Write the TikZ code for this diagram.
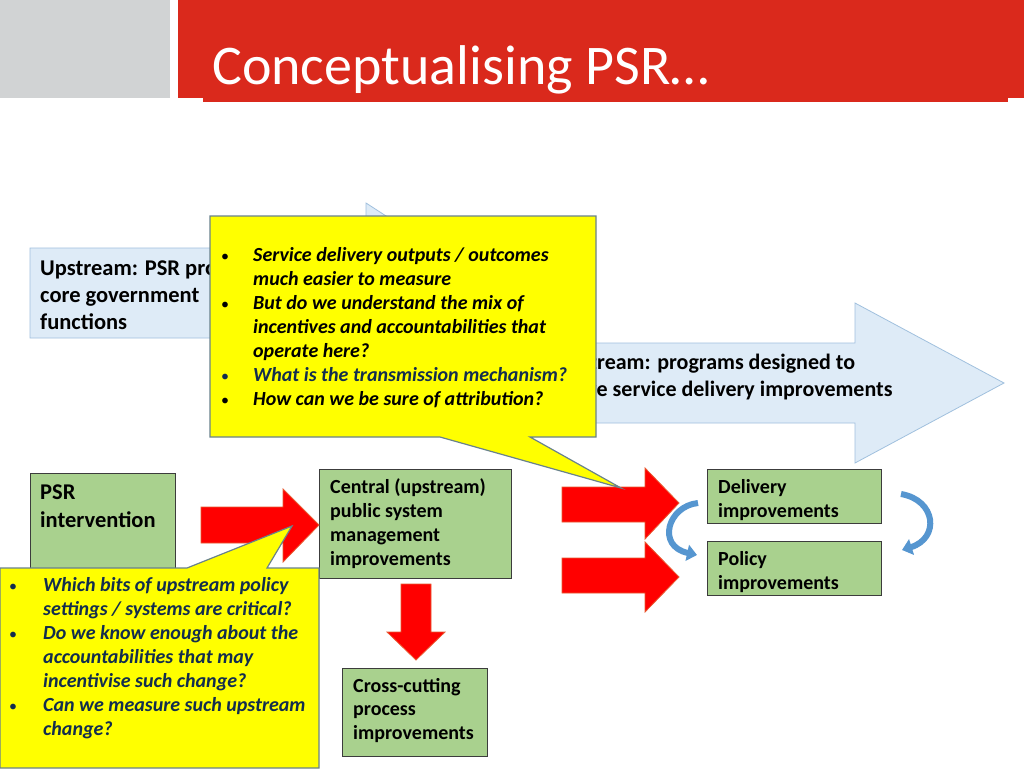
\documentclass[tikz,border=0pt]{standalone}
\usepackage{fontspec}
\setmainfont{Carlito}
\usetikzlibrary{arrows.meta}
\definecolor{hdrred}{RGB}{218,41,28}
\definecolor{hdrgray}{RGB}{209,211,212}
\definecolor{lbfill}{RGB}{222,235,247}
\definecolor{lbline}{RGB}{160,192,222}
\definecolor{gfill}{RGB}{169,209,142}
\definecolor{gline}{RGB}{60,60,60}
\definecolor{redarrow}{RGB}{255,0,0}
\definecolor{redline}{RGB}{232,90,50}
\definecolor{bluecurve}{RGB}{86,150,208}
\definecolor{callyellow}{RGB}{255,255,0}
\definecolor{callline}{RGB}{105,130,140}
\definecolor{navy}{RGB}{18,45,78}
\tikzset{
  lbshape/.style={fill=lbfill, draw=lbline, line width=0.8pt},
  gbox/.style={fill=gfill, draw=gline, line width=1pt, inner sep=0, anchor=north west},
  gtext/.style={anchor=base west, inner sep=0, font=\bfseries\fontsize{20}{24}\selectfont, text=black},
  bigtext/.style={anchor=base west, inner sep=0, font=\bfseries\fontsize{22}{27}\selectfont, text=black},
  redshape/.style={fill=redarrow, draw=redline, line width=0.8pt, line join=miter},
  callout/.style={fill=callyellow, draw=callline, line width=1.2pt},
  calltext/.style={anchor=base west, inner sep=0, font=\bfseries\itshape\fontsize{20}{24}\selectfont},
  bluearrow/.style={draw=bluecurve, line width=6pt, -{Triangle[length=10pt,width=16pt]}}
}
\newcommand{\bdot}{{\upshape\normalfont\fontsize{16}{16}\selectfont •}}
\newcommand{\bitem}{\makebox[32pt][l]{\bdot}}
\newcommand{\bcont}{\hspace*{32pt}}
\newcommand{\litem}{\makebox[34pt][l]{\bdot}}
\newcommand{\lcont}{\hspace*{34pt}}
\begin{document}
\begin{tikzpicture}[x=1pt,y=-1pt]
\useasboundingbox (0,0) rectangle (1024,768);
\fill[white] (0,0) rectangle (1024,768);
% header
\fill[hdrgray] (0,0) rectangle (170,98);
\fill[hdrred] (178,0) rectangle (1024,98);
\fill[hdrred] (203,97) rectangle (1008,102);
\node[anchor=base west, inner sep=0, text=white, font=\fontsize{56}{64}\selectfont] (title) at (212,84) {Conceptualising PSR…};

% light blue arrows
\draw[lbshape] (30,248) -- (366,248) -- (366,203) -- (505,293) -- (366,383) -- (366,338) -- (30,338) -- cycle;
\begin{scope}
\clip (0,240) rectangle (210,345);
\node[bigtext, font=\bfseries\fontsize{22.5}{27}\selectfont] (upt) at (40,275) {\parbox[t]{400pt}{\raggedright Upstream: PSR programs\\ core government\\ functions}};
\end{scope}
\draw[lbshape] (500,343) -- (855,343) -- (855,303) -- (1004,383) -- (855,463) -- (855,423) -- (500,423) -- cycle;
\begin{scope}
\clip (596,340) rectangle (1000,430);
\node[bigtext] (downt1) at (527,369) {Downstream: programs designed to};
\node[bigtext] (downt2) at (538,396) {achieve service delivery improvements};
\end{scope}

% green boxes
\node[gbox, minimum width=145pt, minimum height=150pt] (psr) at (30,473) {};
\node[anchor=base west, inner sep=0, font=\bfseries\fontsize{22.5}{28}\selectfont] (psrt) at (40,499) {\parbox[t]{130pt}{\raggedright PSR\\ intervention}};
\node[gbox, minimum width=192pt, minimum height=109pt] (central) at (319,469) {};
\node[gtext] (centralt) at (330,493) {\parbox[t]{180pt}{\raggedright Central (upstream)\\ public system\\ management\\ improvements}};
\node[gbox, minimum width=145pt, minimum height=88pt] (cross) at (342,668) {};
\node[anchor=base west, inner sep=0, font=\bfseries\fontsize{20}{23.5}\selectfont] (crosst) at (353,692) {\parbox[t]{130pt}{\raggedright Cross-cutting\\ process\\ improvements}};
\node[gbox, minimum width=174pt, minimum height=54pt] (deliv) at (707,469) {};
\node[gtext] (delivt) at (718,493) {\parbox[t]{160pt}{\raggedright Delivery\\ improvements}};
\node[gbox, minimum width=174pt, minimum height=54pt] (policy) at (707,541) {};
\node[gtext] (policyt) at (718,565) {\parbox[t]{160pt}{\raggedright Policy\\ improvements}};

% red arrows
\draw[redshape] (201,507) -- (283,507) -- (283,489) -- (319,525) -- (283,562) -- (283,543) -- (201,543) -- cycle;
\draw[redshape] (562,487) -- (645,487) -- (645,468) -- (679,503) -- (645,539) -- (645,522) -- (562,522) -- cycle;
\draw[redshape] (562,558) -- (645,558) -- (645,542) -- (679,577) -- (645,612) -- (645,593) -- (562,593) -- cycle;
\draw[redshape] (401,584) -- (431,584) -- (431,632) -- (445,632) -- (416,660) -- (387,632) -- (401,632) -- cycle;

% blue curved arrows
\coordinate (la) at (698,503);
\coordinate (lb) at (697,555);
\coordinate (ra) at (901,494);
\coordinate (rb) at (902,550);
\draw[bluearrow] (la) .. controls (668,506) and (656,546) .. (lb);
\draw[bluearrow] (ra) .. controls (936,500) and (940,538) .. (rb);

% upper callout
\draw[callout] (210,216) -- (596,216) -- (596,437) -- (530,437) -- (621,488) -- (440,437) -- (210,437) -- cycle;
\node[calltext, text=black] (ct1) at (221,261) {\parbox[t]{370pt}{\raggedright
\bitem Service delivery outputs / outcomes\\
\bcont much easier to measure\\
\bitem But do we understand the mix of\\
\bcont incentives and accountabilities that\\
\bcont operate here?\\
\textcolor{navy}{\bitem What is the transmission mechanism?}\\
\bitem How can we be sure of attribution?}};

% lower callout
\draw[callout] (0,568) -- (187,568) -- (292,526) -- (267,568) -- (319,568) -- (319,768) -- (0,768) -- cycle;
\node[calltext, text=navy] (ct2) at (9,591) {\parbox[t]{310pt}{\raggedright
\litem Which bits of upstream policy\\
\lcont settings / systems are critical?\\
\litem Do we know enough about the\\
\lcont accountabilities that may\\
\lcont incentivise such change?\\
\litem Can we measure such upstream\\
\lcont change?}};
\end{tikzpicture}
\end{document}
